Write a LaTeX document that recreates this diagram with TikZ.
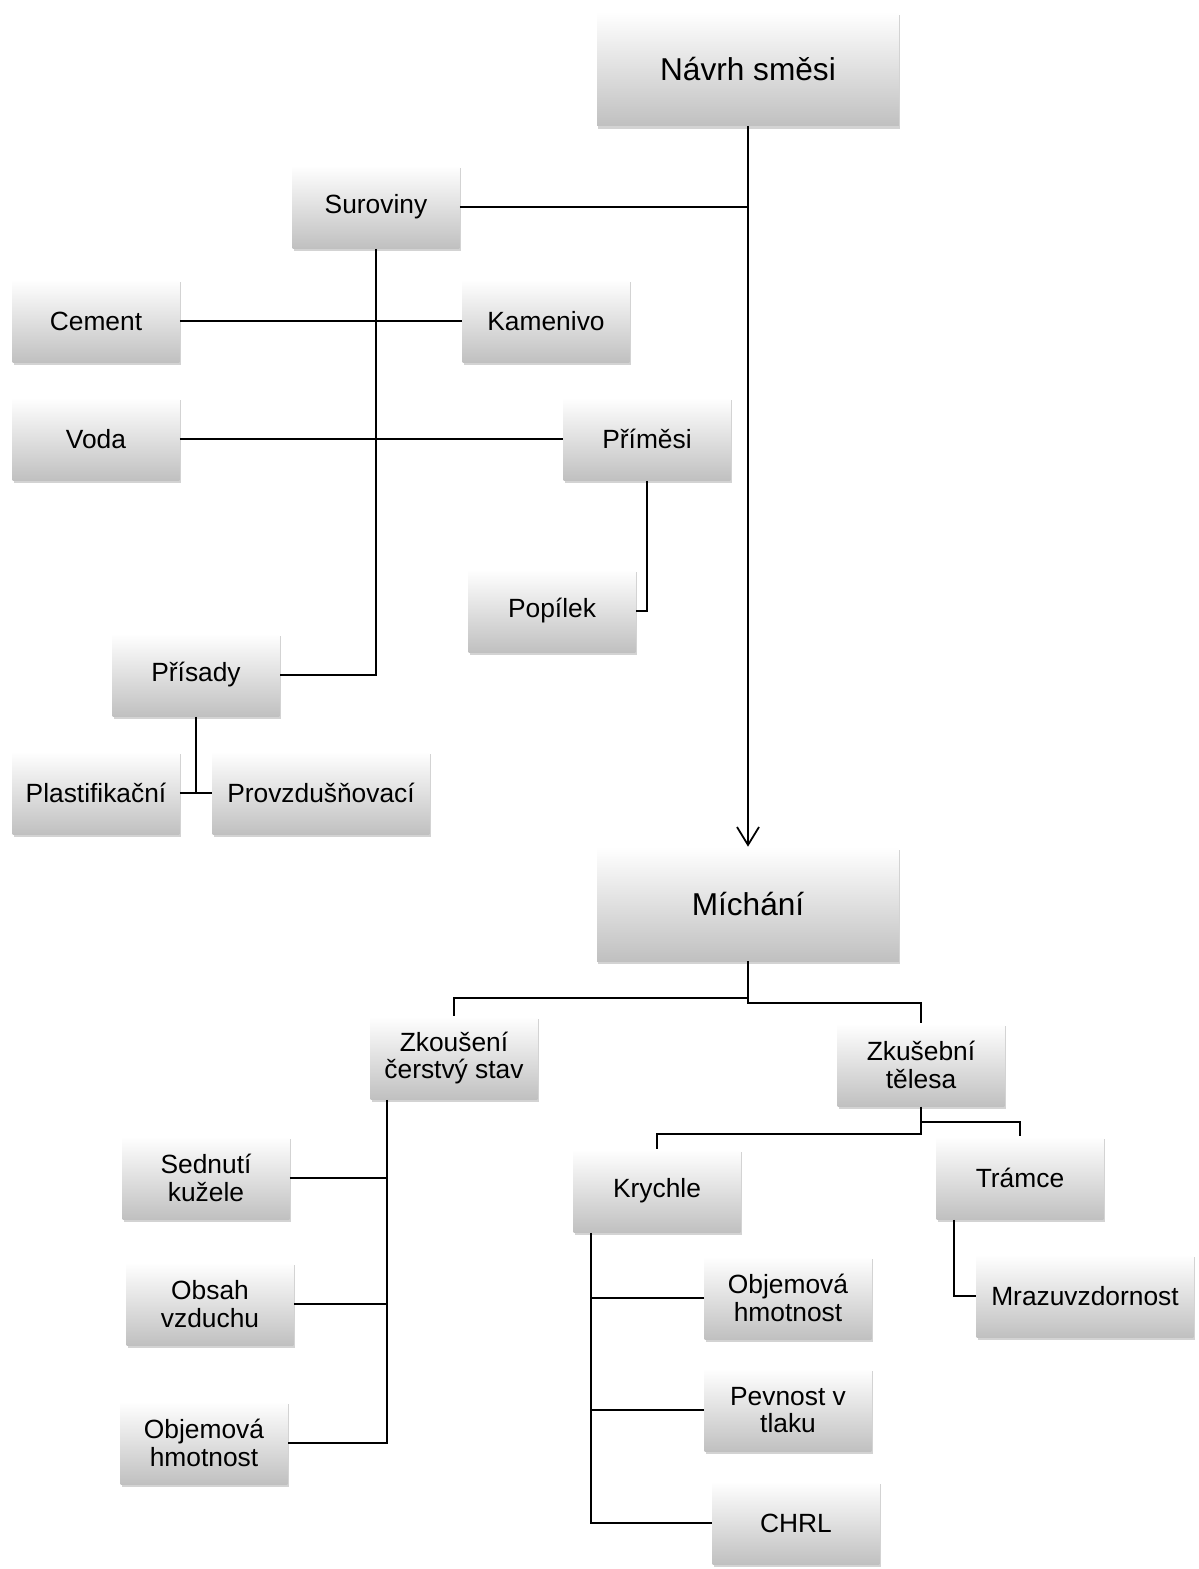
\documentclass[tikz,border=0pt]{standalone}
\usepackage{fontspec}
\setmainfont{Liberation Sans}
\usepackage{xcolor}
\usetikzlibrary{arrows.meta, positioning, shadows}
\definecolor{cShade}{RGB}{192,192,192}
\tikzset{
	box/.style      ={rectangle, minimum width=3.34cm, minimum height=1.66cm, align=center, inner sep=2pt, top color=white, bottom color=cShade, draw=none, drop shadow={shadow xshift=0.6pt, shadow yshift=-1.5pt, opacity=0.35}, font=\fontsize{15}{15.5}\selectfont},
	bigbox/.style   ={box, minimum width=6.04cm, minimum height=2.28cm, font=\fontsize{18}{20}\selectfont},
	widebox/.style  ={box, minimum width=4.34cm},
	conn/.style     ={line width=1pt},
	flowarrow/.style={line width=1pt, -{Straight Barb[length=3.6mm, width=4.4mm]}},
}
\begin{document}
\begin{tikzpicture}[x=0.02cm, y=-0.02cm]
	\useasboundingbox (0,0) rectangle (1198,1569);
	% mix design part
	\node[bigbox] (navrh) at (748,69) {Návrh směsi};
	\node[box] (suro) at (376,207) {Suroviny};
	\node[box] (cement) at (96,321) {Cement};
	\node[box] (kamen) at (546,321) {Kamenivo};
	\node[box] (voda) at (96,439) {Voda};
	\node[box] (primesi) at (647,439) {Příměsi};
	\node[box] (popilek) at (552,611) {Popílek};
	\node[box] (prisady) at (196,675) {Přísady};
	\node[box] (plast) at (96,793) {Plastifikační};
	\node[widebox] (provz) at (321,793) {Provzdušňovací};
	% mixing and tests
	\node[bigbox] (mich) at (748,904) {Míchání};
	\node[box] (zkous) at (454,1058) {Zkoušení\\čerstvý stav};
	\node[box] (teles) at (921,1065) {Zkušební\\tělesa};
	\node[box] (sednuti) at (206,1178) {Sednutí\\kužele};
	\node[box] (obsah) at (210,1304) {Obsah\\vzduchu};
	\node[box] (objemA) at (204,1443) {Objemová\\hmotnost};
	\node[box] (krychle) at (657,1191) {Krychle};
	\node[box] (tramce) at (1020,1178) {Trámce};
	\node[box] (objemB) at (788,1298) {Objemová\\hmotnost};
	\node[box] (pevnost) at (788,1410) {Pevnost v\\tlaku};
	\node[box] (chrl) at (796,1523) {CHRL};
	\node[widebox] (mraz) at (1085,1296) {Mrazuvzdornost};

	\draw[flowarrow] (navrh) -- (mich);
	\draw[conn] (suro.east) -- (suro.east -| navrh.south);
	\draw[conn] (suro.south) |- (prisady.east);
	\draw[conn] (cement) -- (kamen);
	\draw[conn] (voda) -- (primesi);
	\draw[conn] (primesi.south) |- (popilek.east);
	\draw[conn] (prisady.south) -- (prisady.south |- plast.east);
	\draw[conn] (plast) -- (provz);

	\draw[conn] (mich.south) -- ++(0,37) -| (zkous.north);
	\draw[conn] (mich.south) -- ++(0,42) -| (teles.north);
	\draw[conn] (teles.south) -- ++(0,27) -| (krychle.north);
	\draw[conn] (teles.south) -- ++(0,15) -| (tramce.north);

	\coordinate (zkTop) at ([xshift=0.34cm]zkous.south west);
	\draw[conn] (zkTop) |- (objemA.east);
	\foreach \n in {sednuti, obsah}
		\draw[conn] (\n.east) -- (\n.east -| zkTop);
	\coordinate (krTop) at ([xshift=0.36cm]krychle.south west);
	\draw[conn] (krTop) |- (chrl.west);
	\foreach \n in {objemB, pevnost}
		\draw[conn] (\n.west) -- (\n.west -| krTop);
	\draw[conn] ([xshift=0.36cm]tramce.south west) |- (mraz.west);
\end{tikzpicture}
\end{document}
